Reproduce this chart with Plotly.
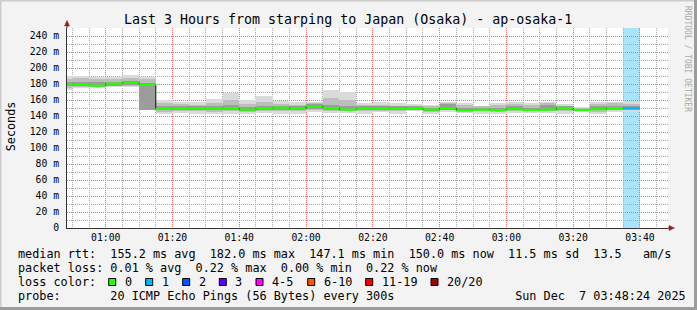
import plotly.graph_objects as go
import pandas as pd

# ---------------- data ----------------
day = "2025-12-07 "
bar_starts = ["00:45", "00:50", "00:55", "01:00", "01:05", "01:10", "01:15", "01:20", "01:25",
              "01:30", "01:35", "01:40", "01:45", "01:50", "01:55", "02:00", "02:05", "02:10",
              "02:15", "02:20", "02:25", "02:30", "02:35", "02:40", "02:45", "02:50", "02:55",
              "03:00", "03:05", "03:10", "03:15", "03:20", "03:25", "03:30", "03:35"]
median = [179, 179, 178, 180.5, 182, 179.5, 149, 149, 149, 150, 150, 148, 150, 150.5, 149,
          152, 150, 148, 149.5, 149.5, 149.5, 150, 148, 150, 147.1, 148, 147.5, 148.5, 147.5,
          148, 150, 147.5, 148.5, 150, 150]
outer_lo = [172, 175, 175, 176, 176, 148, 143, 144, 143, 142, 143, 143, 144, 142, 143, 145, 144,
            144, 143, 145, 142, 146, 143, 145, 144, 143, 143, 144, 144, 144, 143, 145, 143, 145, 145]
outer_hi = [190, 190, 189, 189, 191, 189, 160, 158, 158, 161, 169, 160, 165, 159, 158, 158, 172,
            170, 156, 157, 156, 155, 154, 157, 156, 153, 156, 157, 156, 157, 155, 151, 157, 158, 158]
mid_lo = [175, 176, 176, 177, 178, 148, 145, 146, 146, 145, 146, 145, 146, 146, 146, 147, 146,
          146, 146, 146, 146, 147, 145, 147, 145, 146, 145, 146, 146, 146, 146, 146, 145, 147, 147]
mid_hi = [186, 187, 186, 186, 187, 186, 156, 155, 154, 156, 160, 155, 157, 155, 154, 156, 162,
          160, 154, 154, 153, 153, 152, 156, 154, 152, 154, 155, 154, 156, 153, 150, 155, 156, 155]
in_lo = [177, 177, 177, 178, 179, 148, 147, 147, 147, 147, 148, 146, 148, 148, 147, 149, 148,
         147, 147, 148, 148, 148, 146, 148, 146, 147, 146, 147, 147, 147, 148, 146.5, 147, 148, 148]
in_hi = [182, 182, 183, 183, 184, 181, 152, 152, 152, 153, 154, 151, 153, 153, 152, 155, 154,
         152, 152, 152, 152, 152, 150, 155, 150, 150, 150, 152, 150, 154, 152, 149, 152, 153, 153]
lost_pings = [0, 0, 0, 0, 0, 0, 0, 0, 0, 0, 0, 0, 0, 0, 0, 0, 0, 0, 0, 0, 0, 0, 0, 0, 0, 0, 0,
              0, 0, 0, 0, 0, 0, 0, 1]

y_tickvals = [0, 20, 40, 60, 80, 100, 120, 140, 160, 180, 200, 220, 240]
y_ticktext = ["0", "20 m", "40 m", "60 m", "80 m", "100 m", "120 m", "140 m", "160 m",
              "180 m", "200 m", "220 m", "240 m"]
y_minorvals = [10, 30, 50, 70, 90, 110, 130, 150, 170, 190, 210, 230, 250]

loss_labels = ["0", "1", "2", "3", "4-5", "6-10", "11-19", "20/20"]
loss_colors = ["#26ff00", "#00b8ff", "#0059ff", "#5e00ff", "#ff00ff", "#ff5500", "#ff0000", "#a10000"]
loss_bg = {1: "#a8e4fa"}

title = "Last 3 Hours from starping to Japan (Osaka) - ap-osaka-1"
line_rtt = "median rtt:  155.2 ms avg  182.0 ms max  147.1 ms min  150.0 ms now  11.5 ms sd  13.5   am/s"
line_loss = "packet loss: 0.01 % avg  0.22 % max  0.00 % min  0.22 % now"
line_probe = "probe:       20 ICMP Echo Pings (56 Bytes) every 300s                 Sun Dec  7 03:48:24 2025"
x_start, x_end = day + "00:48:24", day + "03:48:24"

# ---------------- derived ----------------
STEP = pd.Timedelta(minutes=5)
starts = [pd.Timestamp(day + s) for s in bar_starts]
ends = [s + STEP for s in starts]
centers = [s + STEP / 2 for s in starts]
width_ms = STEP.total_seconds() * 1000

FONT = "DejaVu Sans Mono"
W, H = 697, 310
L, R, T, B = 67, 668, 28, 228


def px(x):
    return (x - L) / (R - L)


def py(y):
    return (B - y) / (B - T)


fig = go.Figure()

# smoke layers
for lo, hi, col in [(outer_lo, outer_hi, "#dadada"), (mid_lo, mid_hi, "#bdbdbd"), (in_lo, in_hi, "#9c9c9c")]:
    fig.add_trace(go.Bar(x=centers, y=[h - l for l, h in zip(lo, hi)], base=lo, width=width_ms,
                         marker=dict(color=col, line=dict(width=0)), showlegend=False,
                         hoverinfo="skip"))

# median step line (black connectors)
fig.add_trace(go.Scatter(x=starts + [ends[-1]], y=median + [median[-1]], mode="lines",
                         line=dict(color="#111111", width=1, shape="hv"), showlegend=False,
                         hoverinfo="skip"))

# coloured median segments by loss
for k, col in enumerate(loss_colors):
    xs, ys = [], []
    for s, e, m, lp in zip(starts, ends, median, lost_pings):
        if lp == k:
            xs += [s, e, None]
            ys += [m, m, None]
    if xs:
        fig.add_trace(go.Scatter(x=xs, y=ys, mode="lines", line=dict(color=col, width=2.2),
                                 showlegend=False, hoverinfo="skip"))

shapes = []
# loss background columns
for s, e, lp in zip(starts, ends, lost_pings):
    if lp in loss_bg:
        shapes.append(dict(type="rect", xref="x", yref="paper", x0=s, x1=e, y0=0, y1=1,
                           fillcolor=loss_bg[lp], line=dict(width=0), layer="below"))

AX = "#333333"
ARROW = "#9a1c1c"
shapes.append(dict(type="line", xref="paper", yref="paper", x0=px(L), x1=px(L), y0=1, y1=py(23),
                   line=dict(color=AX, width=1)))
shapes.append(dict(type="line", xref="paper", yref="paper", x0=1, x1=px(672), y0=0, y1=0,
                   line=dict(color=AX, width=1)))
shapes.append(dict(type="path", xref="paper", yref="paper",
                   path=f"M {px(64.5)},{py(26)} L {px(67)},{py(20.5)} L {px(69.5)},{py(26)} Z",
                   fillcolor=ARROW, line=dict(color=ARROW, width=0.5)))
shapes.append(dict(type="path", xref="paper", yref="paper",
                   path=f"M {px(669)},{py(225.5)} L {px(674.5)},{py(228)} L {px(669)},{py(230.5)} Z",
                   fillcolor=ARROW, line=dict(color=ARROW, width=0.5)))

# frame
shapes.append(dict(type="rect", xref="paper", yref="paper", x0=px(0), x1=px(W), y0=py(0), y1=py(1.5),
                   fillcolor="#cbcbcb", line=dict(width=0)))
shapes.append(dict(type="rect", xref="paper", yref="paper", x0=px(0), x1=px(1.5), y0=py(0), y1=py(H),
                   fillcolor="#cbcbcb", line=dict(width=0)))
shapes.append(dict(type="rect", xref="paper", yref="paper", x0=px(W - 3), x1=px(W), y0=py(0), y1=py(H),
                   fillcolor="#9c9c9c", line=dict(width=0)))
shapes.append(dict(type="rect", xref="paper", yref="paper", x0=px(0), x1=px(W), y0=py(H - 3), y1=py(H),
                   fillcolor="#9c9c9c", line=dict(width=0)))

annotations = []


def text(x, y, s, size=11.8, color="#000000", xanchor="left", angle=0):
    annotations.append(dict(xref="paper", yref="paper", x=px(x), y=py(y),
                            text=s.replace(" ", "&nbsp;"), showarrow=False,
                            xanchor=xanchor, yanchor="middle", textangle=angle,
                            font=dict(family=FONT, size=size, color=color)))


text(348, 19, title, size=13.3, xanchor="center")
text(10.8, 126.5, "Seconds", xanchor="center", angle=-90)
text(687.5, 58.5, "RRDTOOL / TOBI OETIKER", size=8, color="#a8a8a8", xanchor="center", angle=90)

row1, row2, row3, row4 = 254, 268.3, 282.3, 296
text(16, row1, line_rtt)
text(16, row2, line_loss)
text(16, row3, "loss color:")
box_x = [108.7, 145.7, 182.7, 219.3, 256, 307.7, 365.7, 431]
for bx, lab, col in zip(box_x, loss_labels, loss_colors):
    shapes.append(dict(type="rect", xref="paper", yref="paper", x0=px(bx), x1=px(bx + 7),
                       y0=py(278.5), y1=py(285.5), fillcolor=col, line=dict(color="#000000", width=1)))
    text(bx + 14, row3, lab)
text(16, row4, line_probe)

fig.update_layout(
    width=W, height=H,
    margin=dict(l=L, r=W - R, t=T, b=H - B, pad=0),
    paper_bgcolor="#f3f3f3", plot_bgcolor="#ffffff",
    barmode="overlay", bargap=0,
    showlegend=False,
    shapes=shapes, annotations=annotations,
    font=dict(family=FONT, color="#000000"),
)
MAJOR = "#e87070"
MINOR = "#a8a8a8"
DASH = "1px,1px"
fig.update_xaxes(
    type="date", range=[x_start, x_end], tickformat="%H:%M", dtick=1200000,
    tick0=day + "00:00:00", showgrid=True, gridcolor=MAJOR, griddash=DASH, gridwidth=1,
    minor=dict(dtick=300000, tick0=day + "00:00:00", showgrid=True, gridcolor=MINOR,
               griddash=DASH, gridwidth=1),
    showline=True, linecolor=AX, linewidth=1, ticks="", zeroline=False,
    tickfont=dict(family=FONT, size=9.75, color="#000000"), ticklabelstandoff=0,
)
fig.update_yaxes(
    range=[0, 250], tickmode="array", tickvals=y_tickvals, ticktext=y_ticktext,
    showgrid=True, gridcolor=MAJOR, griddash=DASH, gridwidth=1,
    minor=dict(tickmode="array", tickvals=y_minorvals, showgrid=True, gridcolor=MINOR,
               griddash=DASH, gridwidth=1),
    showline=True, linecolor=AX, linewidth=1, ticks="", zeroline=False,
    tickfont=dict(family=FONT, size=9.75, color="#000000"), ticklabelstandoff=5,
)

fig.write_html("out.html")
